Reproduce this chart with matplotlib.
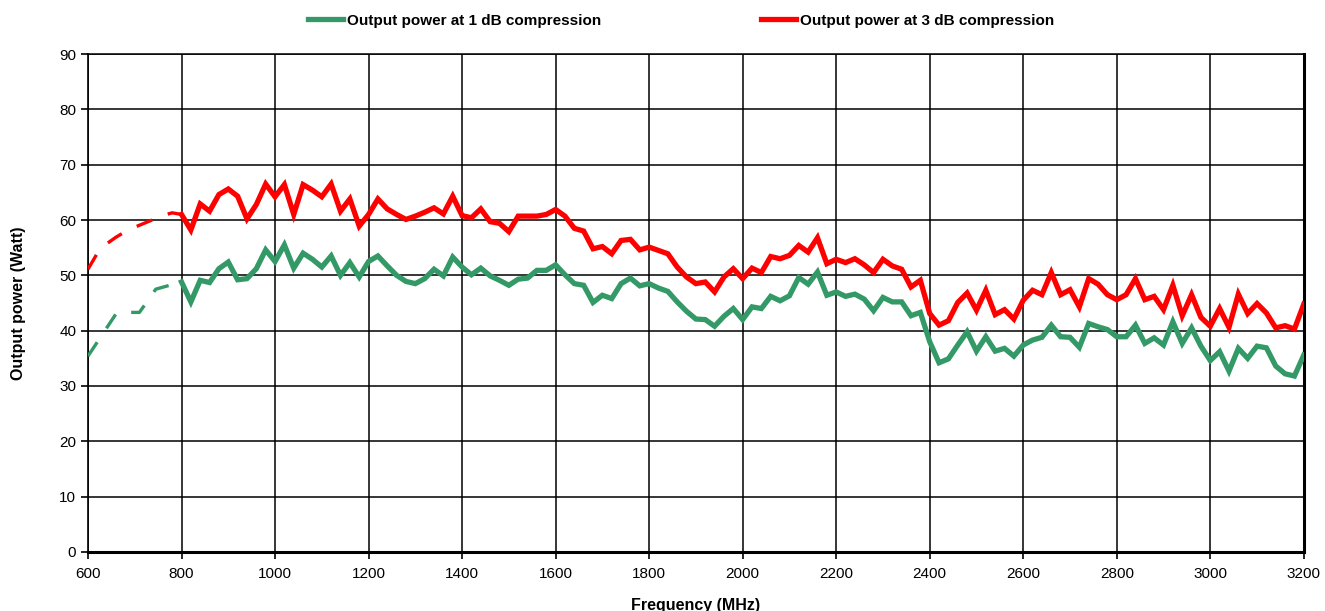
import numpy as np
import matplotlib.pyplot as plt

plt.rcParams['font.family'] = ['Liberation Sans', 'DejaVu Sans']

# measured data, 20 MHz steps from 800 to 3200 MHz
freq = np.arange(800, 3201, 20)

p1db = [48.8, 45.2, 49.1, 48.7, 51.2, 52.4, 49.2, 49.4, 51.2, 54.6,
        52.5, 55.5, 51.3, 54.0, 52.9, 51.5, 53.5, 50.0, 52.3, 49.7,
        52.5, 53.5, 51.7, 50.0, 48.9, 48.5, 49.4, 51.1, 49.9, 53.3,
        51.5, 50.1, 51.3, 49.9, 49.1, 48.2, 49.3, 49.5, 50.9, 50.9,
        51.9, 50.1, 48.5, 48.2, 45.1, 46.4, 45.8, 48.5, 49.5, 48.1,
        48.5, 47.7, 47.1, 45.2, 43.5, 42.1, 42.0, 40.8, 42.6, 44.0,
        42.0, 44.3, 44.0, 46.2, 45.4, 46.3, 49.6, 48.4, 50.6, 46.4,
        47.0, 46.2, 46.6, 45.7, 43.6, 46.0, 45.2, 45.2, 42.7, 43.3,
        38.0, 34.2, 34.9, 37.4, 39.8, 36.3, 38.9, 36.3, 36.8, 35.4,
        37.4, 38.3, 38.8, 41.0, 38.9, 38.8, 37.0, 41.3, 40.7, 40.2,
        38.9, 38.9, 41.0, 37.7, 38.7, 37.4, 41.6, 37.7, 40.5, 37.2,
        34.6, 36.2, 32.7, 36.8, 35.0, 37.2, 36.9, 33.6, 32.2, 31.8,
        35.6]

p3db = [61.0, 58.2, 62.9, 61.6, 64.6, 65.6, 64.3, 60.2, 62.8, 66.5,
        64.2, 66.4, 61.0, 66.4, 65.4, 64.2, 66.5, 61.6, 63.8, 58.9,
        61.0, 63.8, 62.0, 61.0, 60.1, 60.7, 61.4, 62.2, 61.1, 64.3,
        60.8, 60.4, 62.0, 59.7, 59.4, 57.9, 60.7, 60.7, 60.7, 61.0,
        61.9, 60.7, 58.5, 58.0, 54.8, 55.2, 53.9, 56.3, 56.5, 54.6,
        55.1, 54.5, 53.9, 51.5, 49.7, 48.5, 48.8, 47.0, 49.7, 51.2,
        49.4, 51.3, 50.5, 53.4, 53.0, 53.6, 55.4, 54.2, 56.8, 52.1,
        52.9, 52.3, 53.0, 51.9, 50.5, 52.9, 51.7, 51.1, 47.9, 49.1,
        43.1, 41.0, 41.8, 45.1, 46.8, 43.7, 47.3, 42.9, 43.8, 42.1,
        45.5, 47.3, 46.5, 50.5, 46.5, 47.4, 44.3, 49.4, 48.4, 46.5,
        45.6, 46.5, 49.4, 45.6, 46.2, 43.8, 48.2, 42.7, 46.5, 42.4,
        40.8, 44.0, 40.6, 46.6, 43.1, 44.9, 43.2, 40.5, 40.9, 40.3,
        44.8]

# extrapolated part below 800 MHz (dashed)
ext1_freq = [600, 662, 710, 745, 800]
ext1_val = [35.4, 43.3, 43.3, 47.5, 48.8]
ext3_freq = [600, 620, 640, 660, 680, 700, 720, 740, 760, 780, 800]
ext3_val = [51.1, 54.0, 55.7, 56.9, 57.9, 58.7, 59.4, 60.1, 60.8, 61.3, 61.0]

green = '#339966'
red = '#ff0000'

fig = plt.figure(figsize=(13.25, 6.11), dpi=100)
ax = fig.add_axes([0.0664, 0.0966, 0.9176, 0.815])

ax.plot(freq, p1db, color=green, lw=3.8, solid_joinstyle='miter',
        label='Output power at 1 dB compression', zorder=3)
ax.plot(freq, p3db, color=red, lw=3.8, solid_joinstyle='miter',
        label='Output power at 3 dB compression', zorder=3)
ax.plot(ext1_freq, ext1_val, color=green, lw=2.4, ls=(0, (5, 5)), zorder=3)
ax.plot(ext3_freq, ext3_val, color=red, lw=2.4, ls=(0, (5, 5)), zorder=3)

ax.set_xlim(600, 3200)
ax.set_ylim(0, 90)
ax.set_xticks(np.arange(600, 3201, 200))
ax.set_yticks(np.arange(0, 91, 10))
ax.grid(True, color='black', lw=1.1)
ax.set_axisbelow(True)

for s in ['left', 'bottom', 'right']:
    ax.spines[s].set_color('black')
ax.spines['left'].set_linewidth(1.2)
ax.spines['bottom'].set_linewidth(2.2)
ax.spines['right'].set_linewidth(2.2)
ax.spines['top'].set_linewidth(1.1)

ax.tick_params(axis='both', direction='out', length=5, width=1.2,
               labelsize=11, color='black')
ax.tick_params(axis='x', pad=6)

ax.set_xlabel('Frequency (MHz)', fontsize=11.5, fontweight='bold', labelpad=12)
ax.set_ylabel('Output power (Watt)', fontsize=11.5, fontweight='bold', labelpad=24)

fig.legend(loc='upper center', bbox_to_anchor=(0.514, 1.0), ncol=2,
           frameon=False, handlelength=2.3, handletextpad=0.25,
           columnspacing=10.5, prop={'weight': 'bold', 'size': 11})

fig.savefig('out.png', dpi=100)
